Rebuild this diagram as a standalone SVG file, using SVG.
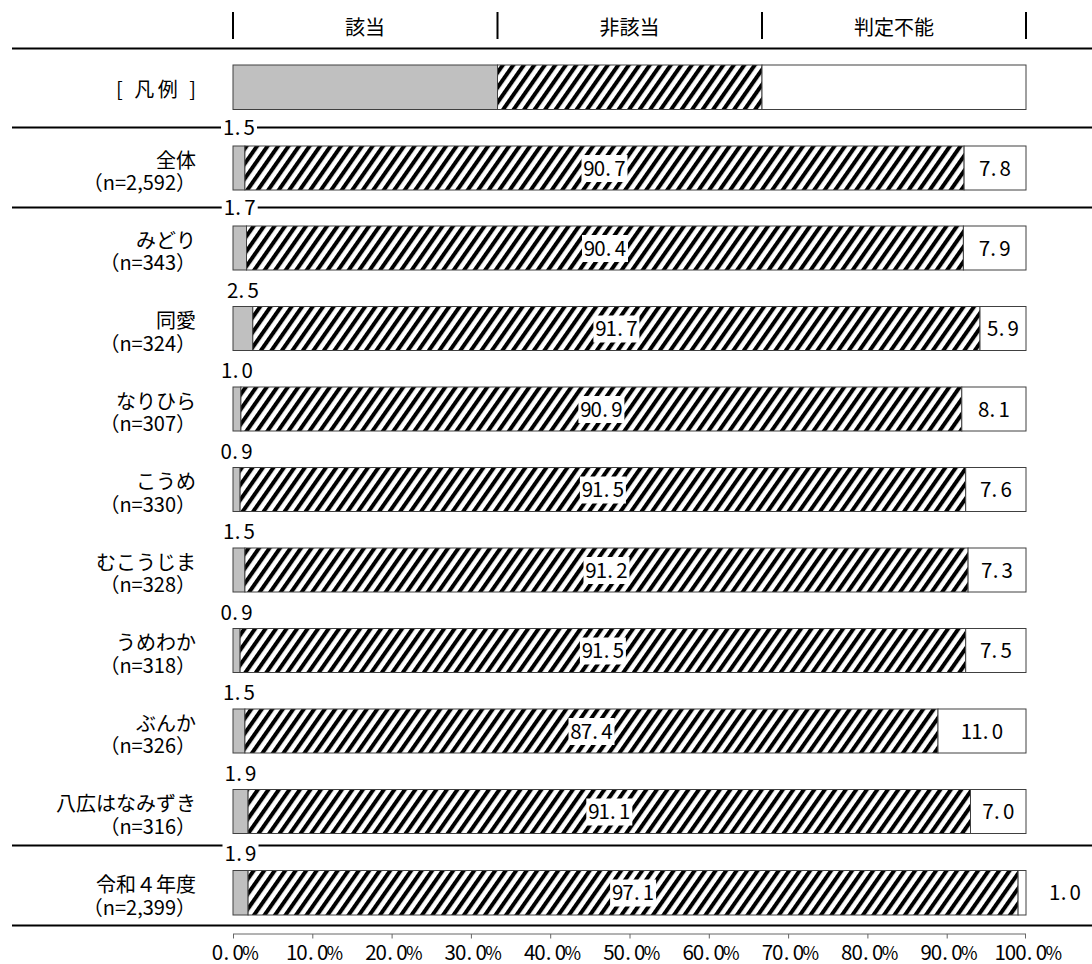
<svg xmlns="http://www.w3.org/2000/svg" width="1092" height="964" viewBox="0 0 1092 964">
<defs>
<pattern id="hatch" patternUnits="userSpaceOnUse" width="8.6" height="8.6" patternTransform="rotate(35)">
<rect width="8.6" height="8.6" fill="#fff"/>
<rect width="4" height="8.6" fill="#000"/>
</pattern>
<style>
.t{font-family:"Noto Sans CJK JP","Noto Sans",sans-serif;font-size:20px;fill:#000}
.n{font-family:"Noto Sans CJK JP","Noto Sans",sans-serif;font-size:20.5px;fill:#000;text-anchor:middle}
.pc{font-size:18px}
.e{text-anchor:end}
.m{text-anchor:middle}
.g{fill:#c0c0c0;stroke:#404040;stroke-width:1}
.h{fill:url(#hatch);stroke:#404040;stroke-width:1}
.w{fill:#fff;stroke:#404040;stroke-width:1}
.bg{fill:#fff}
.sep{stroke:#000;stroke-width:2;fill:none}
.ax{stroke:#666;stroke-width:1;fill:none}
</style>
</defs>
<rect width="1092" height="964" fill="#fff"/>

<g id="header">
<line class="sep" x1="233" y1="12" x2="233" y2="39"/>
<line class="sep" x1="497.5" y1="12" x2="497.5" y2="39"/>
<line class="sep" x1="762" y1="12" x2="762" y2="39"/>
<line class="sep" x1="1026" y1="12" x2="1026" y2="39"/>
<text class="t m" x="365" y="34.5">該当</text>
<text class="t m" x="629.5" y="34.5">非該当</text>
<text class="t m" x="894" y="34.5">判定不能</text>
</g>

<g id="connectors">
<line class="sep" x1="12" y1="48.5" x2="1092" y2="48.5"/>
<line class="sep" x1="12" y1="127.5" x2="1092" y2="127.5"/>
<line class="sep" x1="12" y1="207.5" x2="1092" y2="207.5"/>
<line class="sep" x1="12" y1="845.5" x2="1092" y2="845.5"/>
<line class="sep" x1="12" y1="925.5" x2="1092" y2="925.5"/>
</g>

<g id="legend">
<text class="t e" x="196" y="96.5" textLength="80" lengthAdjust="spacing">[ 凡例 ]</text>
<rect class="g" x="233" y="65" width="264.5" height="44.5"/>
<rect class="h" x="497.5" y="65" width="264.5" height="44.5"/>
<rect class="w" x="762" y="65" width="264" height="44.5"/>
</g>

<g id="row-zentai">
<text class="t e" x="196" y="167.5">全体<tspan x="196" dy="22.5">（n=2,592）</tspan></text>
<rect class="g" x="233" y="146" width="11.9" height="44"/>
<rect class="h" x="244.9" y="146" width="719.2" height="44"/>
<rect class="w" x="964.1" y="146" width="61.9" height="44"/>
<rect class="bg" x="221" y="118" width="36" height="19"/>
<text class="n" x="228.7 237.5 249.3" y="135">1.5</text>
<rect class="bg" x="581.5" y="155" width="46" height="27"/>
<text class="n" x="589.05 599.35 608.15 619.95" y="175.5">90.7</text>
<text class="n" x="984.7 993.5 1005.3" y="175.5">7.8</text>
</g>

<g id="row-midori">
<text class="t e" x="196" y="247.5">みどり<tspan x="196" dy="22.5">（n=343）</tspan></text>
<rect class="g" x="233" y="226" width="13.5" height="44"/>
<rect class="h" x="246.5" y="226" width="716.9" height="44"/>
<rect class="w" x="963.4" y="226" width="62.6" height="44"/>
<rect class="bg" x="221.7" y="198" width="36" height="19"/>
<text class="n" x="229.4 238.2 250" y="215">1.7</text>
<rect class="bg" x="582" y="235" width="46" height="27"/>
<text class="n" x="589.55 599.85 608.65 620.45" y="255.5">90.4</text>
<text class="n" x="984.4 993.2 1005" y="255.5">7.9</text>
</g>

<g id="row-doai">
<text class="t e" x="196" y="328">同愛<tspan x="196" dy="22.5">（n=324）</tspan></text>
<rect class="g" x="233" y="306.5" width="19.8" height="44"/>
<rect class="h" x="252.8" y="306.5" width="727.2" height="44"/>
<rect class="w" x="980" y="306.5" width="46" height="44"/>
<text class="n" x="232.6 241.4 253.2" y="297.5">2.5</text>
<rect class="bg" x="593.4" y="315.5" width="46" height="27"/>
<text class="n" x="600.95 611.25 620.05 631.85" y="336">91.7</text>
<text class="n" x="992.7 1001.5 1013.3" y="336">5.9</text>
</g>

<g id="row-narihira">
<text class="t e" x="196" y="408.5">なりひら<tspan x="196" dy="22.5">（n=307）</tspan></text>
<rect class="g" x="233" y="387" width="7.9" height="44"/>
<rect class="h" x="240.9" y="387" width="720.9" height="44"/>
<rect class="w" x="961.8" y="387" width="64.2" height="44"/>
<text class="n" x="226.7 235.5 247.3" y="378">1.0</text>
<rect class="bg" x="578.4" y="396" width="46" height="27"/>
<text class="n" x="585.95 596.25 605.05 616.85" y="416.5">90.9</text>
<text class="n" x="983.6 992.4 1004.2" y="416.5">8.1</text>
</g>

<g id="row-koume">
<text class="t e" x="196" y="489">こうめ<tspan x="196" dy="22.5">（n=330）</tspan></text>
<rect class="g" x="233" y="467.5" width="7.1" height="44"/>
<rect class="h" x="240.1" y="467.5" width="725.6" height="44"/>
<rect class="w" x="965.7" y="467.5" width="60.3" height="44"/>
<text class="n" x="226.3 235.1 246.9" y="458.5">0.9</text>
<rect class="bg" x="579.9" y="476.5" width="46" height="27"/>
<text class="n" x="587.45 597.75 606.55 618.35" y="497">91.5</text>
<text class="n" x="985.6 994.4 1006.2" y="497">7.6</text>
</g>

<g id="row-mukoujima">
<text class="t e" x="196" y="569.5">むこうじま<tspan x="196" dy="22.5">（n=328）</tspan></text>
<rect class="g" x="233" y="548" width="11.9" height="44"/>
<rect class="h" x="244.9" y="548" width="723.2" height="44"/>
<rect class="w" x="968.1" y="548" width="57.9" height="44"/>
<text class="n" x="228.7 237.5 249.3" y="539">1.5</text>
<rect class="bg" x="583.5" y="557" width="46" height="27"/>
<text class="n" x="591.05 601.35 610.15 621.95" y="577.5">91.2</text>
<text class="n" x="986.7 995.5 1007.3" y="577.5">7.3</text>
</g>

<g id="row-umewaka">
<text class="t e" x="196" y="650">うめわか<tspan x="196" dy="22.5">（n=318）</tspan></text>
<rect class="g" x="233" y="628.5" width="7.1" height="44"/>
<rect class="h" x="240.1" y="628.5" width="725.6" height="44"/>
<rect class="w" x="965.7" y="628.5" width="60.3" height="44"/>
<text class="n" x="226.3 235.1 246.9" y="619.5">0.9</text>
<rect class="bg" x="579.9" y="637.5" width="46" height="27"/>
<text class="n" x="587.45 597.75 606.55 618.35" y="658">91.5</text>
<text class="n" x="985.6 994.4 1006.2" y="658">7.5</text>
</g>

<g id="row-bunka">
<text class="t e" x="196" y="730.5">ぶんか<tspan x="196" dy="22.5">（n=326）</tspan></text>
<rect class="g" x="233" y="709" width="11.9" height="44"/>
<rect class="h" x="244.9" y="709" width="693.1" height="44"/>
<rect class="w" x="938" y="709" width="88" height="44"/>
<text class="n" x="228.7 237.5 249.3" y="700">1.5</text>
<rect class="bg" x="568.5" y="718" width="46" height="27"/>
<text class="n" x="576.05 586.35 595.15 606.95" y="738.5">87.4</text>
<text class="n" x="966.55 976.85 985.65 997.45" y="738.5">11.0</text>
</g>

<g id="row-yahiro">
<text class="t e" x="196" y="811">八広はなみずき<tspan x="196" dy="22.5">（n=316）</tspan></text>
<rect class="g" x="233" y="789.5" width="15.1" height="44"/>
<rect class="h" x="248.1" y="789.5" width="722.4" height="44"/>
<rect class="w" x="970.5" y="789.5" width="55.5" height="44"/>
<text class="n" x="230.2 239 250.8" y="780.5">1.9</text>
<rect class="bg" x="586.3" y="798.5" width="46" height="27"/>
<text class="n" x="593.85 604.15 612.95 624.75" y="819">91.1</text>
<text class="n" x="988 996.8 1008.6" y="819">7.0</text>
</g>

<g id="row-r4">
<text class="t e" x="196" y="892">令和４年度<tspan x="196" dy="22.5">（n=2,399）</tspan></text>
<rect class="g" x="233" y="870.5" width="15.1" height="44.5"/>
<rect class="h" x="248.1" y="870.5" width="770" height="44.5"/>
<rect class="w" x="1018.1" y="870.5" width="7.9" height="44.5"/>
<rect class="bg" x="222.5" y="842" width="36" height="22"/>
<text class="n" x="230.2 239 250.8" y="861">1.9</text>
<rect class="bg" x="610.1" y="879.5" width="46" height="27"/>
<text class="n" x="617.65 627.95 636.75 648.55" y="900">97.1</text>
<text class="n" x="1054.7 1063.5 1075.3" y="900">1.0</text>
</g>

<g id="axis">
<line class="ax" x1="233" y1="934" x2="1026" y2="934"/>
<path class="ax" d="M233.5 934v4.5M312.8 934v4.5M392.1 934v4.5M471.4 934v4.5M550.7 934v4.5M630 934v4.5M709.3 934v4.5M788.6 934v4.5M867.9 934v4.5M947.2 934v4.5M1025.5 934v4.5"/>
<text class="n" y="959.5"><tspan x="217.55 226.35 238.15">0.0</tspan><tspan class="pc" x="250.45">%</tspan></text>
<text class="n" y="959.5"><tspan x="291.7 302 310.8 322.6">10.0</tspan><tspan class="pc" x="334.9">%</tspan></text>
<text class="n" y="959.5"><tspan x="371 381.3 390.1 401.9">20.0</tspan><tspan class="pc" x="414.2">%</tspan></text>
<text class="n" y="959.5"><tspan x="450.3 460.6 469.4 481.2">30.0</tspan><tspan class="pc" x="493.5">%</tspan></text>
<text class="n" y="959.5"><tspan x="529.6 539.9 548.7 560.5">40.0</tspan><tspan class="pc" x="572.8">%</tspan></text>
<text class="n" y="959.5"><tspan x="608.9 619.2 628 639.8">50.0</tspan><tspan class="pc" x="652.1">%</tspan></text>
<text class="n" y="959.5"><tspan x="688.2 698.5 707.3 719.1">60.0</tspan><tspan class="pc" x="731.4">%</tspan></text>
<text class="n" y="959.5"><tspan x="767.5 777.8 786.6 798.4">70.0</tspan><tspan class="pc" x="810.7">%</tspan></text>
<text class="n" y="959.5"><tspan x="846.8 857.1 865.9 877.7">80.0</tspan><tspan class="pc" x="890">%</tspan></text>
<text class="n" y="959.5"><tspan x="926.1 936.4 945.2 957">90.0</tspan><tspan class="pc" x="969.3">%</tspan></text>
<text class="n" y="959.5"><tspan x="1000.25 1010.55 1020.85 1029.65 1041.45">100.0</tspan><tspan class="pc" x="1053.75">%</tspan></text>
</g>
</svg>
